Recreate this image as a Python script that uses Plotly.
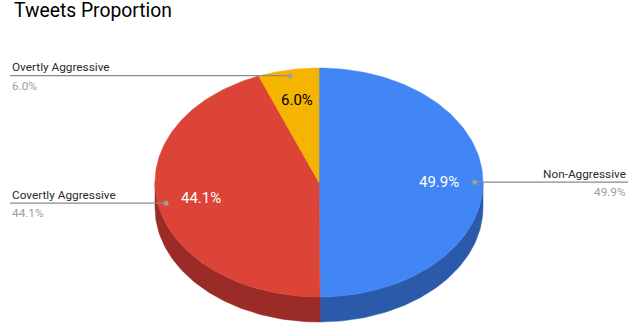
import numpy as np
import plotly.graph_objs as go

# data
labels = ['Non-Aggressive', 'Covertly Aggressive', 'Overtly Aggressive']
values = [49.9, 44.1, 6.0]
colors = ['#4285F4', '#DB4437', '#F4B400']
side_colors = ['#2B5AAB', '#9A2B26', '#A87C00']
inner_text_colors = ['white', 'white', 'black']

# pie geometry (in pixel-like axis units)
cx, cy = 319, 182.5
rx, ry = 164, 114.5
depth = 25


def pt(theta, r=1.0, dy=0.0):
    # theta in degrees, clockwise from 12 o'clock
    t = np.radians(theta)
    return cx + r * rx * np.sin(t), cy - r * ry * np.cos(t) + dy


fig = go.Figure()

total = sum(values)
angles = np.cumsum([0] + [v / total * 360 for v in values])

# side walls (only front half is visible)
for i in range(len(values)):
    a0, a1 = max(angles[i], 90), min(angles[i + 1], 270)
    if a1 <= a0:
        continue
    th = np.linspace(a0, a1, 80)
    xt, yt = pt(th)
    xb, yb = pt(th[::-1], dy=depth)
    fig.add_trace(go.Scatter(x=np.r_[xt, xb, xt[0]], y=np.r_[yt, yb, yt[0]],
                             fill='toself', fillcolor=side_colors[i], mode='lines',
                             line=dict(color=side_colors[i], width=0.5),
                             hoverinfo='skip', showlegend=False))

# top faces
for i in range(len(values)):
    th = np.linspace(angles[i], angles[i + 1], 120)
    xa, ya = pt(th)
    fig.add_trace(go.Scatter(x=np.r_[cx, xa, cx], y=np.r_[cy, ya, cy],
                             fill='toself', fillcolor=colors[i], mode='lines',
                             line=dict(color=colors[i], width=0.5),
                             hoverinfo='skip', showlegend=False))

annotations = []
for i, (lab, v) in enumerate(zip(labels, values)):
    mid = (angles[i] + angles[i + 1]) / 2
    # inner percentage
    ix, iy = pt(mid, 0.73)
    annotations.append(dict(x=ix, y=iy, text='%.1f%%' % v, showarrow=False,
                            font=dict(size=15, color=inner_text_colors[i], family='Roboto')))
    # leader line + dot
    dx, dy_ = pt(mid, 0.95)
    right = np.sin(np.radians(mid)) > 0
    x_end = 628 if right else 10
    fig.add_trace(go.Scatter(x=[dx, x_end], y=[dy_, dy_], mode='lines',
                             line=dict(color='#8a8a8a', width=1.2),
                             hoverinfo='skip', showlegend=False))
    fig.add_trace(go.Scatter(x=[dx], y=[dy_], mode='markers',
                             marker=dict(color='#9e9e9e', size=5),
                             hoverinfo='skip', showlegend=False))
    anchor = 'right' if right else 'left'
    annotations.append(dict(x=x_end, y=dy_ - 8.5, text=lab, showarrow=False,
                            xanchor=anchor, font=dict(size=11.8, color='#2a2a2a', family='Roboto')))
    annotations.append(dict(x=x_end, y=dy_ + 10, text='%.1f%%' % v, showarrow=False,
                            xanchor=anchor, font=dict(size=11.8, color='#9e9e9e', family='Roboto')))

annotations.append(dict(x=12, y=10, text='Tweets Proportion', showarrow=False,
                        xanchor='left', font=dict(size=19.3, color='#000000', family='Roboto')))

fig.update_xaxes(range=[0, 640], visible=False, fixedrange=True)
fig.update_yaxes(range=[334, 0], visible=False, fixedrange=True)
fig.update_layout(width=640, height=334, margin=dict(l=0, r=0, t=0, b=0),
                  plot_bgcolor='white', paper_bgcolor='white',
                  annotations=annotations)

fig.write_html("out.html", config={'displayModeBar': False},
               post_script="document.body.style.margin='0';")
